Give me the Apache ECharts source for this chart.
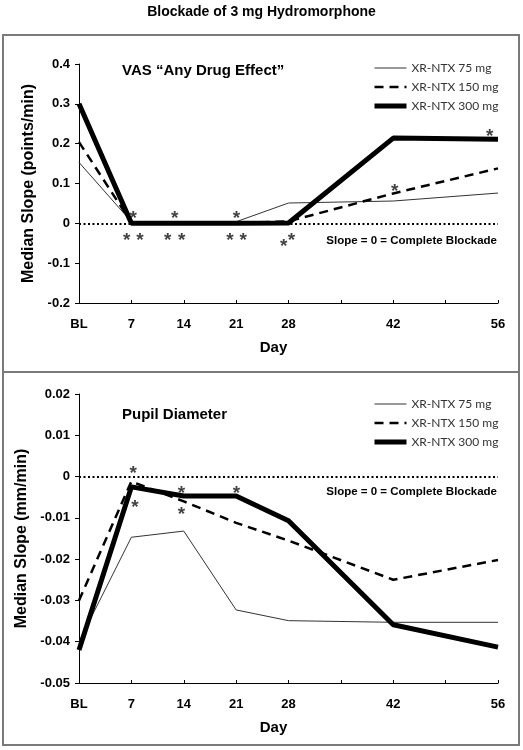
<!DOCTYPE html>
<html>
<head>
<meta charset="utf-8">
<script src="https://cdn.jsdelivr.net/npm/echarts@6/dist/echarts.min.js"></script>
<style>html,body{margin:0;padding:0;background:#fff}#c{width:523px;height:750px}</style>
</head>
<body>
<div id="c"></div>
<script>
// ---- data ----
const days = [0, 7, 14, 21, 28, 42, 56];
const seriesNames = ['XR-NTX 75 mg', 'XR-NTX 150 mg', 'XR-NTX 300 mg'];
const vas75  = [0.153, 0.004, 0.004, 0.004, 0.051, 0.056, 0.076];
const vas150 = [0.204, 0.002, 0.001, 0.001, 0.005, 0.075, 0.138];
const vas300 = [0.300, 0.000, 0.000, 0.000, 0.001, 0.214, 0.211];
const pupil75  = [-0.040, -0.0147, -0.0132, -0.0323, -0.0349, -0.0353, -0.0353];
const pupil150 = [-0.030, -0.0012, -0.0060, -0.0112, -0.0155, -0.0250, -0.0202];
const pupil300 = [-0.042, -0.0025, -0.0047, -0.0047, -0.0107, -0.0359, -0.0413];
// significance asterisks [day, value]
const vasStars = [[7.25, 0.0244], [12.8, 0.0244], [21.05, 0.0244], [42.2, 0.091], [54.9, 0.229],
                  [6.37, -0.030], [8.14, -0.030], [11.84, -0.030], [13.71, -0.030],
                  [20.16, -0.030], [21.94, -0.030], [27.37, -0.047], [28.4, -0.030]];
const pupilStars = [[7.25, 0.0019], [7.48, -0.0064], [13.7, -0.003], [13.7, -0.0081], [21.05, -0.003]];
const vasTicks = {min: -0.2, max: 0.4, interval: 0.1};
const pupilTicks = {min: -0.05, max: 0.02, interval: 0.01};
const dayTicks = {min: 0, max: 56, interval: 7, hidden: [35, 49], baseLabel: 'BL'};

const FONT = '"Liberation Sans", Arial, sans-serif';
const zip = (xs, ys) => xs.map((x, i) => [x, ys[i]]);
const styles = [
  {width: 1, type: 'solid', color: '#333'},
  {width: 2.5, type: [9, 6], color: '#000'},
  {width: 5, type: 'solid', color: '#000'}
];

function xAxisFor(gi) {
  return {
    type: 'value', gridIndex: gi, min: dayTicks.min, max: dayTicks.max, interval: dayTicks.interval,
    axisLine: {onZero: false, lineStyle: {color: '#000', width: 1}},
    axisTick: {inside: true, length: 3, lineStyle: {color: '#000'}},
    splitLine: {show: false},
    axisLabel: {
      margin: 15, color: '#000', fontFamily: FONT, fontWeight: 'bold', fontSize: 13,
      formatter: v => v === 0 ? dayTicks.baseLabel : (dayTicks.hidden.includes(v) ? '' : String(v))
    },
    name: 'Day', nameLocation: 'middle', nameGap: 37,
    nameTextStyle: {color: '#000', fontFamily: FONT, fontWeight: 'bold', fontSize: 15, padding: [0, 30, 0, 0]}
  };
}
function yAxisFor(gi, t, name) {
  return {
    type: 'value', gridIndex: gi, min: t.min, max: t.max, interval: t.interval,
    axisLine: {show: true, onZero: false, lineStyle: {color: '#000', width: 1}},
    axisTick: {show: true, length: 4, lineStyle: {color: '#000'}},
    splitLine: {show: false},
    axisLabel: {margin: 9, color: '#000', fontFamily: FONT, fontWeight: 'bold', fontSize: 13},
    name: name, nameLocation: 'middle', nameGap: 40,
    nameTextStyle: {color: '#000', fontFamily: FONT, fontWeight: 'bold', fontSize: 16}
  };
}
function lineSeries(gi, arrays) {
  return arrays.map((arr, i) => ({
    name: seriesNames[i], type: 'line', xAxisIndex: gi, yAxisIndex: gi,
    data: zip(days, arr), symbol: 'none', lineStyle: styles[i], itemStyle: {color: styles[i].color},
    z: 3 + i, silent: true,
    markLine: i === 0 ? {
      silent: true, symbol: ['none', 'none'], label: {show: false},
      lineStyle: {type: [2, 2.5], width: 2, color: '#000'},
      data: [{yAxis: 0}], z: 2
    } : undefined
  }));
}
function starSeries(gi, pts) {
  return {
    type: 'scatter', xAxisIndex: gi, yAxisIndex: gi, data: pts, symbolSize: 1,
    itemStyle: {color: 'rgba(0,0,0,0)'}, silent: true, z: 10,
    label: {show: true, position: 'inside', formatter: '*', fontSize: 19, fontWeight: 'bold', color: '#111',
            fontFamily: FONT, offset: [0, 5]}
  };
}
function legendFor(top) {
  return {
    data: seriesNames.map((n, i) => ({name: n, lineStyle: {width: styles[i].width, type: styles[i].type, color: styles[i].color}})),
    orient: 'vertical', left: 367, top: top,
    itemWidth: 32, itemHeight: 12, itemGap: 7, selectedMode: false,
    itemStyle: {color: 'rgba(0,0,0,0)', borderWidth: 0, opacity: 0},
    textStyle: {color: '#333', fontFamily: 'Lato, "Open Sans", sans-serif', fontSize: 12}
  };
}

const chart = echarts.init(document.getElementById('c'), null, {renderer: 'canvas'});
chart.setOption({
  backgroundColor: '#fff',
  animation: false,
  title: {
    text: 'Blockade of 3 mg Hydromorphone', left: 'center', top: 0,
    textStyle: {fontFamily: FONT, fontWeight: 'bold', fontSize: 14, color: '#000'}
  },
  legend: [legendFor(57), legendFor(393)],
  grid: [
    {left: 79, width: 419, top: 64, height: 239},
    {left: 79, width: 419, top: 394, height: 289}
  ],
  xAxis: [xAxisFor(0), xAxisFor(1)],
  yAxis: [yAxisFor(0, vasTicks, 'Median Slope (points/min)'), yAxisFor(1, pupilTicks, 'Median Slope (mm/min)')],
  series: [
    ...lineSeries(0, [vas75, vas150, vas300]),
    ...lineSeries(1, [pupil75, pupil150, pupil300]),
    starSeries(0, vasStars),
    starSeries(1, pupilStars)
  ],
  graphic: [
    {type: 'rect', shape: {x: 3, y: 35, width: 516, height: 337}, style: {fill: 'none', stroke: '#7a7a7a', lineWidth: 2}, silent: true},
    {type: 'rect', shape: {x: 3, y: 372, width: 516, height: 373}, style: {fill: 'none', stroke: '#7a7a7a', lineWidth: 2}, silent: true},
    {type: 'text', left: 122, top: 63, style: {text: 'VAS \u201cAny Drug Effect\u201d', font: 'bold 15px ' + FONT, fill: '#000'}},
    {type: 'text', left: 122, top: 407, style: {text: 'Pupil Diameter', font: 'bold 15px ' + FONT, fill: '#000'}},
    {type: 'text', right: 26, top: 235, style: {text: 'Slope = 0 = Complete Blockade', font: 'bold 11.5px ' + FONT, fill: '#000'}},
    {type: 'text', right: 26, top: 486, style: {text: 'Slope = 0 = Complete Blockade', font: 'bold 11.5px ' + FONT, fill: '#000'}}
  ]
});
</script>
</body>
</html>
